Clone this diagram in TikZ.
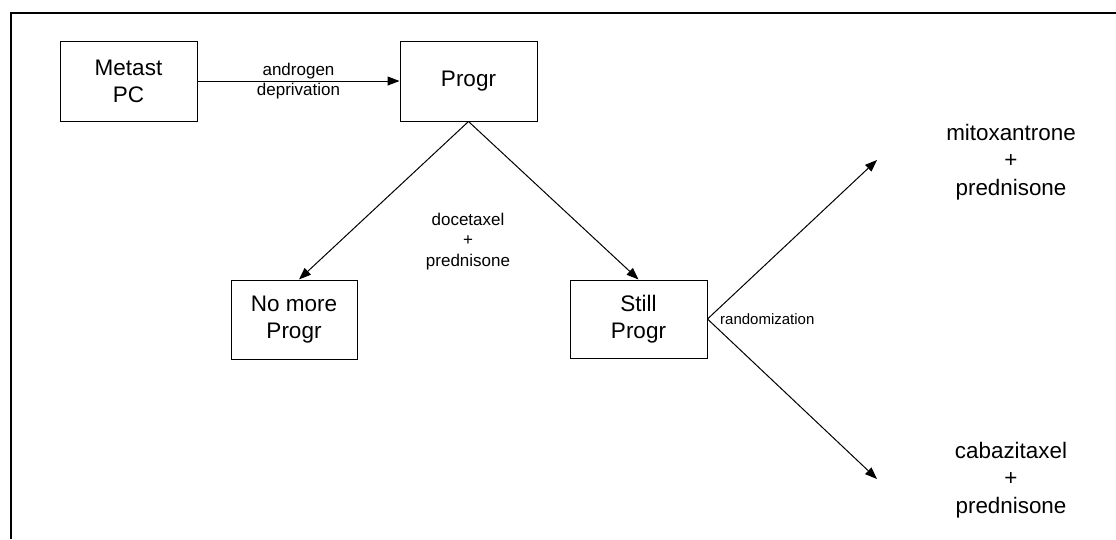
\documentclass[tikz,border=0pt]{standalone}
\usepackage{fontspec}
\setmainfont{Liberation Sans}
\usetikzlibrary{arrows.meta}
\tikzset{
  stagebox/.style={draw, line width=1pt, align=center, inner sep=0pt,
    font=\fontsize{22.5}{27}\selectfont},
  edgelabel/.style={align=center, inner sep=0pt, font=\fontsize{17}{20.5}\selectfont},
  armlabel/.style={align=center, inner sep=0pt, font=\fontsize{22.4}{27.5}\selectfont},
  flow/.style={line width=1pt, -{Triangle[length=12pt,width=9pt]}},
}
\begin{document}
\begin{tikzpicture}[x=1pt, y=-1pt]
\useasboundingbox (0,0) rectangle (1116,539);
% open frame along top and left
\draw[line width=1.3pt] (11,539) -- (11,13) -- (1116,13);

% stages
\node[stagebox, minimum width=137pt, minimum height=80pt] (met) at (128.5,81) {Metast\\PC};
\node[stagebox, minimum width=137pt, minimum height=80pt] (pro) at (468.5,81) {Progr};
\node[stagebox, minimum width=126pt, minimum height=79pt] (nomore) at (294,319.5) {No more\\Progr};
\node[stagebox, minimum width=137pt, minimum height=78pt] (still) at (638.5,319) {Still\\Progr};

% arm end points
\coordinate (armA) at (877,160);
\coordinate (armB) at (877,479);

% connectors
\draw[flow] (met.east) -- (pro.west)
  node[midway, edgelabel] {androgen\\deprivation};
\draw[flow] (pro.south) -- ([xshift=5pt]nomore.north);
\draw[flow] (pro.south) -- (still.north);
\draw[flow] (still.east) -- (armA);
\draw[flow] (still.east) -- (armB);

% labels
\node[edgelabel] (doc) at (468,241.5) {docetaxel\\+\\prednisone};
\node[anchor=west, inner sep=0pt, font=\fontsize{15}{18}\selectfont] (rand) at (720,319) {randomization};
\node[armlabel] (mito) at (1011,162) {mitoxantrone\\+\\prednisone};
\node[armlabel] (caba) at (1011,480) {cabazitaxel\\+\\prednisone};
\end{tikzpicture}
\end{document}
